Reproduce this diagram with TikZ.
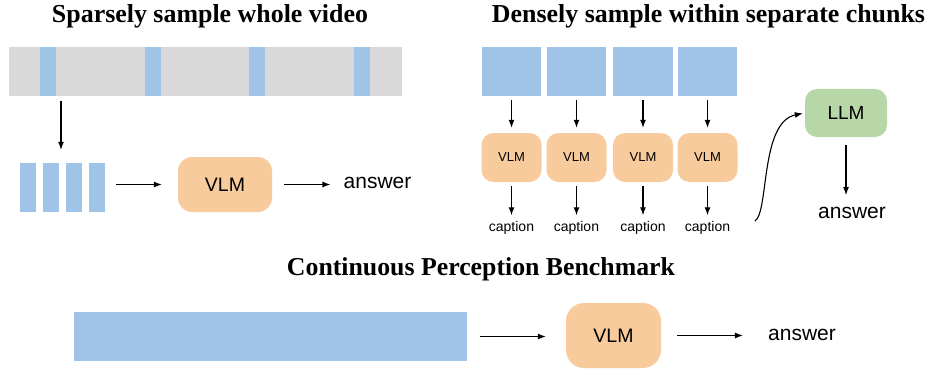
\documentclass[tikz,border=0pt]{standalone}
\usepackage{fontspec}
\setmainfont{Liberation Serif}
\setsansfont{Liberation Sans}
\usetikzlibrary{arrows.meta}
\definecolor{fblue}{HTML}{A0C4E8}
\definecolor{fgray}{HTML}{D9D9D9}
\definecolor{forange}{HTML}{F8CB9C}
\definecolor{fgreen}{HTML}{B7D7A8}
\tikzset{
  blk/.style={fill=fblue, inner sep=0pt, minimum width=#1, minimum height=49pt},
  graybar/.style={fill=fgray, inner sep=0pt, minimum width=393pt, minimum height=49pt},
  model/.style n args={3}{fill=#1, rounded corners=#2, inner sep=0pt, minimum width=#3},
  lbl/.style={inner sep=0pt, font=\sffamily\fontsize{#1}{#1}\selectfont},
  arr/.style={line width=1.1pt, -{Latex[length=8pt,width=6pt]}},
  ttl/.style={inner sep=0pt, font=\bfseries}
}
\begin{document}
\begin{tikzpicture}[x=1pt,y=-1pt]
\useasboundingbox[fill=white] (0,0) rectangle (930,369);

% titles
\node[ttl] (t1) at (210,16) {\resizebox{316pt}{!}{Sparsely sample whole video}};
\node[ttl] (t2) at (708.5,16) {\resizebox{433pt}{!}{Densely sample within separate chunks}};
\node[ttl] (t3) at (481,269) {\resizebox{388pt}{!}{Continuous Perception Benchmark}};

% ---- left: sparse sampling
\node[graybar] (bar) at (205.5,71.5) {};
\foreach \x [count=\i] in {48,153,257,362}
  \node[blk=16pt] (s\i) at (\x,71.5) {};
\node[inner sep=0pt, minimum width=85pt, minimum height=49pt] (frames) at (62.5,187.5) {};
\foreach \x [count=\i] in {28,51,74,97}
  \node[blk=16pt] (f\i) at (\x,187.5) {};
\node[model={forange}{14pt}{94pt}, minimum height=55pt, lbl=19.5] (vlm1) at (225,184.5) {VLM};
\node[lbl=21] (ans1) at (377.5,183) {answer};
\draw[arr, shorten <=5pt, shorten >=13pt] (bar.south -| frames.north) ++(-1.5,0) coordinate (a0) -- (a0 |- frames.north);
\draw[arr, shorten <=11pt, shorten >=16pt] (frames.east |- vlm1.west) -- (vlm1.west);
\draw[arr, shorten <=12pt, shorten >=13pt] (vlm1.east) -- (ans1.west |- vlm1.east);

% ---- right: dense sampling
\foreach \x/\w [count=\i] in {511.5/59pt,576.5/59pt,643/60pt,707.5/59pt}{
  \node[blk=\w] (c\i) at (\x,71.5) {};
  \node[model={forange}{12pt}{60pt}, minimum height=49pt, lbl=13] (v\i) at (\x,157.5) {VLM};
  \node[lbl=14] (cap\i) at (\x,228) {caption};
  \draw[arr, shorten <=4pt, shorten >=5pt] (c\i.south) -- (v\i.north);
  \draw[arr, shorten <=4pt, shorten >=6pt] (v\i.south) -- (cap\i.north);
}
\node[model={fgreen}{12pt}{82pt}, minimum height=48pt, lbl=19] (llm) at (846,113) {LLM};
\node[lbl=21] (ans2) at (852,213) {answer};
\coordinate (cs) at (755,221);
\draw[arr, shorten >=2pt] (cs) .. controls (769,212) and (760,122) .. (llm.west);
\draw[arr, shorten <=8pt, shorten >=12pt] (llm.south) -- (llm.south |- ans2.north);

% ---- bottom: continuous
\node[blk=393pt] (long) at (270.5,336.5) {};
\node[model={forange}{18pt}{95pt}, minimum height=65pt, lbl=19.5] (vlm3) at (613.5,335.5) {VLM};
\node[lbl=21] (ans3) at (802,335) {answer};
\draw[arr, shorten <=13pt, shorten >=20pt] (long.east) -- (vlm3.west |- long.east);
\draw[arr, shorten <=16pt, shorten >=25pt] (vlm3.east) -- (ans3.west |- vlm3.east);
\end{tikzpicture}
\end{document}
